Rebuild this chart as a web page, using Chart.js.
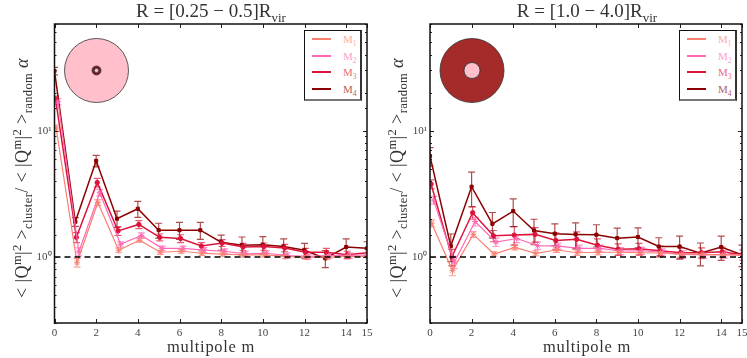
<!DOCTYPE html>
<html>
<head>
<meta charset="utf-8">
<script src="https://cdn.jsdelivr.net/npm/chart.js@4"></script>
<style>
    html, body { margin: 0; padding: 0; background: #fff; overflow: hidden; }
    body { width: 747px; height: 358px; position: relative; font-family: "Liberation Serif", serif; color: #333; }
    canvas { position: absolute; top: 0; }
    sub, sup { line-height: 0; font-size: 68%; }
    .title, .xlabel { position: absolute; white-space: nowrap; transform: translate(-50%, -50%); }
    .title { font-size: 19px; top: 11px; }
    .xlabel { font-size: 16.5px; top: 347px; letter-spacing: 0.7px; }
    .legend { position: absolute; top: 30px; width: 55px; height: 68px; border: 1px solid #111; border-width: 1px 2px 2px 1px; border-bottom-color: #777; border-right-color: #333; background: #fff; }
    .legend div { position: absolute; left: 7px; height: 16px; width: 44px; }
    .legend i { position: absolute; left: 0; top: 7px; width: 19px; height: 2px; }
    .legend span { position: absolute; left: 31px; top: 0; font-size: 11px; line-height: 16px; opacity: 0.65; }
</style>
</head>
<body>
<canvas id="left" width="374" height="358" style="left:0;width:374px;height:358px"></canvas>
<canvas id="right" width="373" height="358" style="left:374px;width:373px;height:358px"></canvas>

<div class="title" style="left:211px">R = [0.25 &minus; 0.5]R<sub>vir</sub></div>
<div class="title" style="left:587px">R = [1.0 &minus; 4.0]R<sub>vir</sub></div>
<div class="xlabel" style="left:211px">multipole m</div>
<div class="xlabel" style="left:587px">multipole m</div>
<div class="legend" id="legend-left" style="left:304px"></div>
<div class="legend" id="legend-right" style="left:679px"></div>

<script>
const multipoles = [0, 1, 2, 3, 4, 5, 6, 7, 8, 9, 10, 11, 12, 13, 14, 15];
const seriesNames = ["M1", "M2", "M3", "M4"];
const seriesColors = ["#fa8072", "#ff69b4", "#dc143c", "#8b0000"];

// left panel, R = [0.25 - 0.5] Rvir
const leftM1 = [10.5, 0.90, 2.70, 1.13, 1.36, 1.09, 1.11, 1.07, 1.055, 1.04, 1.04, 1.01, 0.995, 0.995, 1.01, 1.01];
const leftM2 = [17, 1.10, 3.23, 1.26, 1.48, 1.17, 1.17, 1.135, 1.11, 1.06, 1.07, 1.025, 1.01, 1.025, 1.03, 1.04];
const leftM3 = [17.8, 1.43, 3.89, 1.61, 1.81, 1.43, 1.40, 1.22, 1.29, 1.20, 1.21, 1.18, 1.09, 1.09, 1.04, 1.08];
const leftM4 = [29.7, 1.90, 5.77, 2.01, 2.41, 1.63, 1.63, 1.63, 1.31, 1.24, 1.25, 1.21, 1.13, 0.975, 1.20, 1.17];
const leftM1Err = [0.6, 0.07, 0.15, 0.05, 0.05, 0.04, 0.04, 0.04, 0.04, 0.04, 0.04, 0.04, 0.04, 0.04, 0.04, 0.04];
const leftM2Err = [1.0, 0.08, 0.2, 0.06, 0.07, 0.05, 0.05, 0.05, 0.05, 0.05, 0.05, 0.05, 0.05, 0.05, 0.05, 0.05];
const leftM3Err = [1.0, 0.13, 0.3, 0.13, 0.13, 0.09, 0.1, 0.08, 0.08, 0.08, 0.08, 0.08, 0.08, 0.08, 0.07, 0.07];
const leftM4Err = [2.0, 0.15, 0.6, 0.3, 0.35, 0.22, 0.25, 0.25, 0.18, 0.2, 0.2, 0.18, 0.15, 0.15, 0.19, 0.15];

// right panel, R = [1.0 - 4.0] Rvir
const rightM1 = [1.85, 0.78, 1.51, 1.056, 1.19, 1.07, 1.136, 1.08, 1.09, 1.09, 1.08, 1.075, 1.05, 1.05, 1.04, 1.04];
const rightM2 = [2.82, 0.91, 1.91, 1.31, 1.40, 1.23, 1.22, 1.17, 1.17, 1.115, 1.12, 1.09, 1.05, 1.04, 1.05, 1.025];
const rightM3 = [3.78, 1.0, 2.24, 1.47, 1.49, 1.51, 1.35, 1.38, 1.24, 1.15, 1.16, 1.12, 1.08, 1.08, 1.10, 1.04];
const rightM4 = [6.29, 1.22, 3.6, 1.83, 2.31, 1.62, 1.53, 1.51, 1.50, 1.41, 1.44, 1.21, 1.21, 1.07, 1.20, 1.04];
const rightM1Err = [0.12, 0.07, 0.08, 0.04, 0.05, 0.05, 0.05, 0.05, 0.05, 0.05, 0.05, 0.05, 0.05, 0.05, 0.05, 0.05];
const rightM2Err = [0.2, 0.1, 0.15, 0.1, 0.1, 0.08, 0.07, 0.07, 0.07, 0.07, 0.07, 0.07, 0.07, 0.07, 0.07, 0.07];
const rightM3Err = [0.3, 0.15, 0.25, 0.15, 0.25, 0.2, 0.2, 0.2, 0.15, 0.12, 0.12, 0.1, 0.1, 0.1, 0.1, 0.1];
const rightM4Err = [1.05, 0.3, 1.1, 0.42, 0.57, 0.37, 0.3, 0.35, 0.3, 0.28, 0.26, 0.21, 0.25, 0.22, 0.26, 0.2];

const xTickStep = 2;
const yLabelled = { 1: "10\u2070", 10: "10\u00b9" };

// y axis title pieces: text, kind (n normal, u raised, d lowered)
const yTitleRuns = [
    ["< |Q", "n"], ["m", "u"], ["|", "n"], ["2", "u"], [" >", "n"], ["cluster", "d"],
    ["/ < |Q", "n"], ["m", "u"], ["|", "n"], ["2", "u"], [" >", "n"], ["random", "d"], [" \u03b1", "i"]
];

// series are slightly shifted along m so the error bars do not overlap
const shift = [0.08, 0.17, 0.05, 0];
const widths = [1.2, 1.2, 1.5, 1.5];
const markers = ["star", "star", "circle", "rect"];

function makeDataset(i, values, errors) {
    return {
        label: seriesNames[i],
        data: multipoles.map((m, k) => ({ x: m + shift[i], y: values[k] })),
        errors: errors,
        borderColor: seriesColors[i],
        backgroundColor: seriesColors[i],
        borderWidth: widths[i],
        pointStyle: markers[i],
        pointRadius: i < 2 ? 3 : 2.2,
        pointBorderWidth: 1,
        tension: 0
    };
}

const errorBars = {
    id: "errorBars",
    beforeDatasetsDraw(chart) {
        const ctx = chart.ctx, a = chart.chartArea, y = chart.scales.y;
        ctx.save();
        ctx.beginPath();
        ctx.rect(a.left, a.top, a.width, a.height);
        ctx.clip();
        chart.data.datasets.forEach(ds => {
            if (!ds.errors) return;
            ctx.strokeStyle = ds.borderColor;
            ctx.globalAlpha = 0.7;
            ctx.lineWidth = 1.2;
            ds.data.forEach((p, k) => {
                const px = chart.scales.x.getPixelForValue(p.x);
                const top = y.getPixelForValue(p.y + ds.errors[k]);
                const bot = y.getPixelForValue(p.y - ds.errors[k]);
                ctx.beginPath();
                ctx.moveTo(px, top); ctx.lineTo(px, bot);
                ctx.moveTo(px - 3.5, top); ctx.lineTo(px + 3.5, top);
                ctx.moveTo(px - 3.5, bot); ctx.lineTo(px + 3.5, bot);
                ctx.stroke();
            });
        });
        ctx.restore();
    }
};

// inward ticks on all four sides, like the original frame
const frame = {
    id: "frame",
    afterDraw(chart) {
        const ctx = chart.ctx, a = chart.chartArea;
        ctx.save();
        ctx.strokeStyle = "#222";
        ctx.lineWidth = 1;
        ctx.beginPath();
        chart.scales.x.ticks.forEach(t => {
            const px = Math.round(chart.scales.x.getPixelForValue(t.value)) + 0.5;
            ctx.moveTo(px, a.top); ctx.lineTo(px, a.top + 4);
            ctx.moveTo(px, a.bottom); ctx.lineTo(px, a.bottom - 4);
        });
        chart.scales.y.ticks.forEach(t => {
            const py = Math.round(chart.scales.y.getPixelForValue(t.value)) + 0.5;
            const len = yLabelled[t.value] ? 4 : 2;
            ctx.moveTo(a.left, py); ctx.lineTo(a.left + len, py);
            ctx.moveTo(a.right, py); ctx.lineTo(a.right - len, py);
        });
        ctx.stroke();
        ctx.strokeStyle = "#111";
        ctx.lineWidth = 1.5;
        ctx.strokeRect(a.left, a.top, a.width, a.height);
        ctx.restore();
    }
};

// rotated axis title, drawn piece by piece because of the sub and superscripts
const yTitle = {
    id: "yTitle",
    afterDraw(chart) {
        const ctx = chart.ctx;
        const fontFor = kind => {
            if (kind === "n") return '18px "Liberation Serif"';
            if (kind === "i") return 'italic 18px "Liberation Serif"';
            return '12.5px "Liberation Serif"';
        };
        const lift = { n: 0, i: 0, u: -7, d: 4 };
        ctx.save();
        ctx.letterSpacing = "0.4px";
        let total = 0;
        yTitleRuns.forEach(r => {
            ctx.font = fontFor(r[1]);
            total += ctx.measureText(r[0]).width;
        });
        ctx.translate(chart.chartArea.left - 27, 178);
        ctx.rotate(-Math.PI / 2);
        ctx.fillStyle = "#333";
        ctx.textAlign = "left";
        ctx.textBaseline = "alphabetic";
        let cursor = -total / 2;
        yTitleRuns.forEach(r => {
            ctx.font = fontFor(r[1]);
            ctx.fillText(r[0], cursor, lift[r[1]]);
            cursor += ctx.measureText(r[0]).width;
        });
        ctx.restore();
    }
};

// the little annulus sketch in the upper left corner
function annulus(outerFill, ringOuter, ringInner, ringFill, holeFill) {
    return {
        id: "annulus",
        beforeDatasetsDraw(chart) {
            const ctx = chart.ctx, cx = chart.chartArea.left + 42, cy = 70.5;
            const disc = (r, fill) => {
                ctx.beginPath();
                ctx.arc(cx, cy, r, 0, Math.PI * 2);
                ctx.fillStyle = fill;
                ctx.fill();
                ctx.strokeStyle = "#333";
                ctx.lineWidth = 0.8;
                ctx.stroke();
            };
            ctx.save();
            disc(32, outerFill);
            disc(ringOuter, ringFill);
            disc(ringInner, holeFill);
            ctx.restore();
        }
    };
}

function noOverhang(s) {
    s.paddingLeft = 0;
    s.paddingRight = 0;
    s.paddingTop = 0;
    s.paddingBottom = 0;
}

function drawPanel(id, datasets, yWidth, rightPad, sketch) {
    const unity = {
        data: [{ x: 0, y: 1 }, { x: 15, y: 1 }],
        borderColor: "#000",
        borderWidth: 1.3,
        borderDash: [6, 4],
        pointRadius: 0,
        order: -1
    };
    new Chart(document.getElementById(id), {
        type: "line",
        data: { datasets: datasets.concat([unity]) },
        plugins: [errorBars, frame, yTitle, sketch],
        options: {
            responsive: false,
            animation: false,
            events: [],
            parsing: false,
            layout: { padding: { top: 24, right: rightPad, left: 0, bottom: 0 } },
            plugins: { legend: { display: false }, tooltip: { enabled: false } },
            scales: {
                x: {
                    type: "linear", min: 0, max: 15,
                    afterFit(s) { s.height = 35; noOverhang(s); },
                    grid: { display: false, drawTicks: false },
                    border: { display: false },
                    ticks: { stepSize: xTickStep, maxRotation: 0, padding: 4, color: "#444", font: { family: "Liberation Serif", size: 11 } }
                },
                y: {
                    type: "logarithmic", min: 0.3, max: 70,
                    afterFit(s) { s.width = yWidth; noOverhang(s); },
                    grid: { display: false, drawTicks: false },
                    border: { display: false },
                    ticks: {
                        autoSkip: false, padding: 3, color: "#444",
                        font: { family: "Liberation Serif", size: 11 },
                        callback(v) { return yLabelled[v] || ""; }
                    }
                }
            }
        }
    });
}

function fillLegend(id) {
    const box = document.getElementById(id);
    seriesNames.forEach((name, i) => {
        const row = document.createElement("div");
        row.style.top = (i * 16.7) + "px";
        row.innerHTML = `<i style="background:${seriesColors[i]}"></i>` +
            `<span style="color:${seriesColors[i]}">${name[0]}<sub>${name[1]}</sub></span>`;
        box.appendChild(row);
    });
}

drawPanel("left", [
    makeDataset(0, leftM1, leftM1Err),
    makeDataset(1, leftM2, leftM2Err),
    makeDataset(2, leftM3, leftM3Err),
    makeDataset(3, leftM4, leftM4Err)
], 54.5, 7, annulus("#ffc0cb", 4.5, 2.2, "#7a1f1f", "#ffc0cb"));

drawPanel("right", [
    makeDataset(0, rightM1, rightM1Err),
    makeDataset(1, rightM2, rightM2Err),
    makeDataset(2, rightM3, rightM3Err),
    makeDataset(3, rightM4, rightM4Err)
], 56, 3, annulus("#a52a2a", 8, 8, "#ffc0cb", "#ffc0cb"));

fillLegend("legend-left");
fillLegend("legend-right");
</script>
</body>
</html>
